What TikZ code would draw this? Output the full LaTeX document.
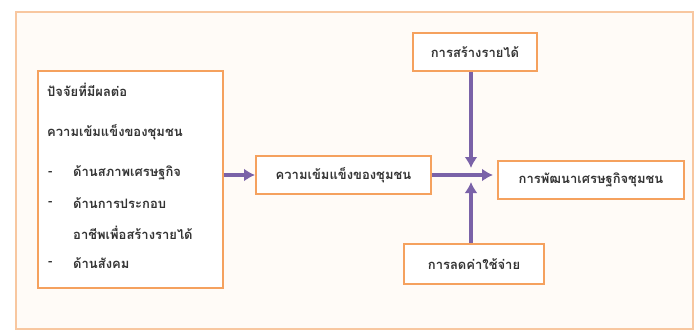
\documentclass[tikz,border=0pt]{standalone}
\usepackage{fontspec}
\newfontfamily\thai[Script=Thai]{Loma}
\usetikzlibrary{arrows.meta}
\definecolor{boxorange}{HTML}{F5A15E}
\definecolor{frameorange}{HTML}{F8C7A0}
\definecolor{arrowpurple}{HTML}{7A62A8}
\definecolor{txt}{HTML}{333333}
\tikzset{
  box/.style={draw=boxorange, line width=2pt, fill=white, inner sep=0pt},
  lbl/.style={font=\thai\bfseries\fontsize{13}{15}\selectfont, text=txt, inner sep=0pt},
  arr/.style={draw=arrowpurple, line width=3.6pt, -{Latex[length=11pt,width=13pt]}},
}
\begin{document}
\begin{tikzpicture}[x=1pt,y=1pt]
\useasboundingbox (0,0) rectangle (697,-330);
\node[draw=frameorange, line width=2.2pt, fill=white!97!orange, anchor=north west, minimum width=677pt, minimum height=317pt, inner sep=0pt] (frame) at (15,-11) {};
% left box
\node[box, anchor=north west, minimum width=185pt, minimum height=217pt] (factors) at (37,-70) {};
\node[lbl, anchor=west] (f1) at (47,-90) {ปัจจัยที่มีผลต่อ};
\node[lbl, anchor=west] (f2) at (47,-132) {ความเข้มแข็งของชุมชน};
\node[lbl, anchor=west] (d1) at (48,-173) {-};
\node[lbl, anchor=west] (f3) at (73,-173) {ด้านสภาพเศรษฐกิจ};
\node[lbl, anchor=west] (d2) at (48,-203) {-};
\node[lbl, anchor=west] (f4) at (73,-203) {ด้านการประกอบ};
\node[lbl, anchor=west] (f5) at (73,-233) {อาชีพเพื่อสร้างรายได้};
\node[lbl, anchor=west] (d3) at (48,-263) {-};
\node[lbl, anchor=west] (f6) at (73,-263) {ด้านสังคม};
% other boxes
\node[box, lbl, anchor=north west, minimum width=175pt, minimum height=38pt] (mid) at (255,-155) {ความเข้มแข็งของชุมชน};
\node[box, lbl, anchor=north west, minimum width=186pt, minimum height=38pt] (dev) at (497,-160) {การพัฒนาเศรษฐกิจชุมชน};
\node[box, lbl, anchor=north west, minimum width=124pt, minimum height=38pt] (inc) at (412,-32) {การสร้างรายได้};
\node[box, lbl, anchor=north west, minimum width=140pt, minimum height=40pt] (exp) at (403,-243) {การลดค่าใช้จ่าย};
\coordinate (hub) at (471,-174);
% connectors
\draw[arr] (factors.east |- mid.west) -- (mid.west);
\draw[arr] (mid.east) -- ([xshift=-4pt]mid.east -| dev.west);
\draw[arr] (inc.south -| hub) -- ([yshift=6pt]hub);
\draw[arr] (exp.north -| hub) -- ([yshift=-8pt]hub);
\end{tikzpicture}
\end{document}
